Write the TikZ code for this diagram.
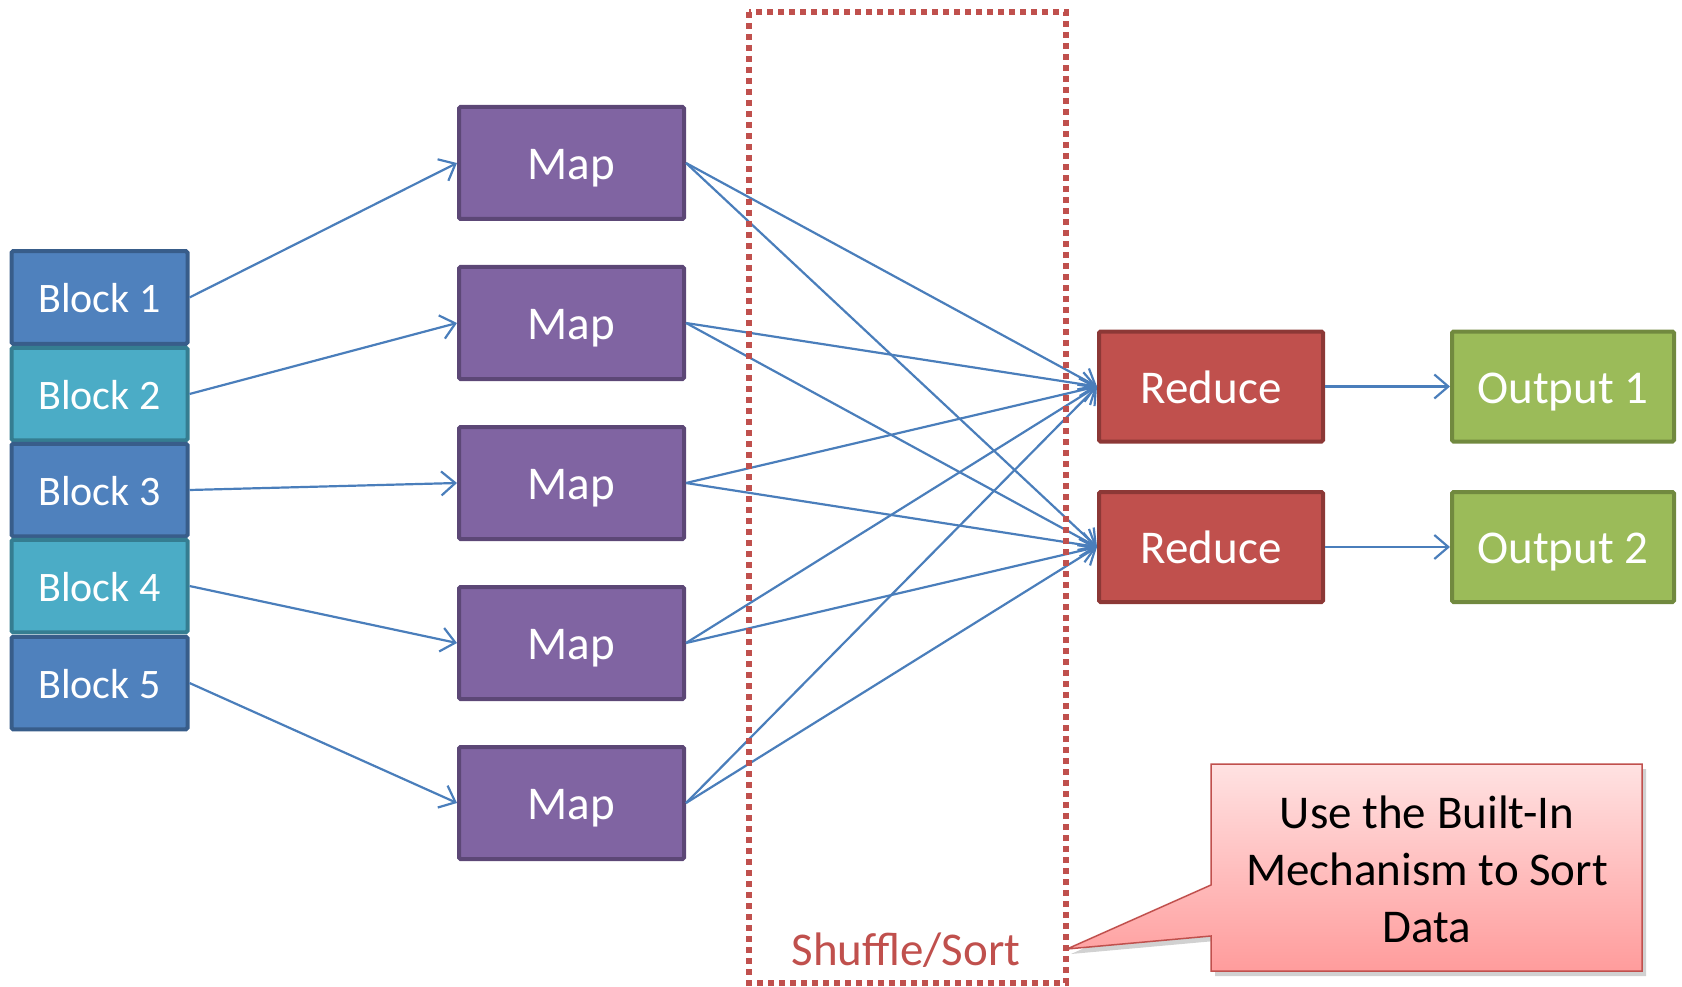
\documentclass[tikz,border=0pt]{standalone}
\usepackage{fontspec}
\setmainfont{Carlito}
\usetikzlibrary{arrows.meta,shadows}
\definecolor{blkA}{HTML}{4F81BD}
\definecolor{blkAd}{HTML}{385D8A}
\definecolor{blkB}{HTML}{4BACC6}
\definecolor{blkBd}{HTML}{357D91}
\definecolor{mapc}{HTML}{8064A2}
\definecolor{mapd}{HTML}{5C4776}
\definecolor{redc}{HTML}{C0504D}
\definecolor{redd}{HTML}{8C3836}
\definecolor{outc}{HTML}{9BBB59}
\definecolor{outd}{HTML}{71893F}
\definecolor{arr}{HTML}{4A7EBB}
\definecolor{calltop}{HTML}{FFE2E2}
\definecolor{callbot}{HTML}{FF9C9C}
\begin{document}
\begin{tikzpicture}[x=1pt,y=-1pt,
  box/.style={draw, line width=4pt, rounded corners=1.5pt, text=white, inner sep=0pt,
    text height=33pt, text depth=0pt,
    font=\fontsize{47}{56}\selectfont},
  blockA/.style={box, fill=blkA, draw=blkAd, minimum width=176pt, minimum height=92.5pt,
    text height=30pt, font=\fontsize{42}{50}\selectfont},
  blockB/.style={blockA, fill=blkB, draw=blkBd},
  mapbox/.style={box, fill=mapc, draw=mapd, minimum width=225pt, minimum height=112pt},
  redbox/.style={box, fill=redc, draw=redd, minimum width=224pt, minimum height=110pt},
  outbox/.style={box, fill=outc, draw=outd, minimum width=222pt, minimum height=110pt},
  conn/.style={draw=arr, line width=2.2pt, -{Straight Barb[length=14pt,width=24pt]}},
  shufflebox/.style={draw=redc, line width=5.5pt, dash pattern=on 6pt off 5pt},
]
\useasboundingbox (0,0) rectangle (1682,987);

% blocks
\node[blockA] (b1) at (99.5,297.5) {Block 1};
\node[blockB] (b2) at (99.5,394) {Block 2};
\node[blockA] (b3) at (99.5,490) {Block 3};
\node[blockB] (b4) at (99.5,586) {Block 4};
\node[blockA] (b5) at (99.5,683) {Block 5};

% maps
\node[mapbox] (m1) at (571.5,163) {Map};
\node[mapbox] (m2) at (571.5,323) {Map};
\node[mapbox] (m3) at (571.5,483) {Map};
\node[mapbox] (m4) at (571.5,643) {Map};
\node[mapbox] (m5) at (571.5,803) {Map};

% reduce and output
\node[redbox] (r1) at (1211,386.5) {Reduce};
\node[redbox] (r2) at (1211,547) {Reduce};
\node[outbox] (o1) at (1563,386.5) {Output 1};
\node[outbox] (o2) at (1563,547) {Output 2};

% connectors
\foreach \i in {1,...,5} {
  \draw[conn] (b\i.east) -- (m\i.west);
  \draw[conn] (m\i.east) -- (r1.west);
  \draw[conn] (m\i.east) -- (r2.west);
}
\draw[conn] (r1.east) -- (o1.west);
\draw[conn] (r2.east) -- (o2.west);

% shuffle/sort region
\draw[shufflebox] (749,12) rectangle (1066,983);
\node[text=redc, font=\fontsize{47}{56}\selectfont] (shuf) at (906,950) {Shuffle/Sort};

% callout
\coordinate (tip) at (1067,949);
\path[draw=redc, line width=1.5pt, top color=calltop, bottom color=callbot,
  drop shadow={shadow xshift=4pt, shadow yshift=-5pt, opacity=0.3, fill=black!60}]
  (1211,764) -- (1642,764) -- (1642,971) -- (1211,971) -- (1211,936) -- (tip) -- (1211,885) -- cycle;
\node[align=center, font=\fontsize{47}{57}\selectfont] (note) at (1427,869)
  {Use the Built-In\\Mechanism to Sort\\Data};
\end{tikzpicture}
\end{document}
